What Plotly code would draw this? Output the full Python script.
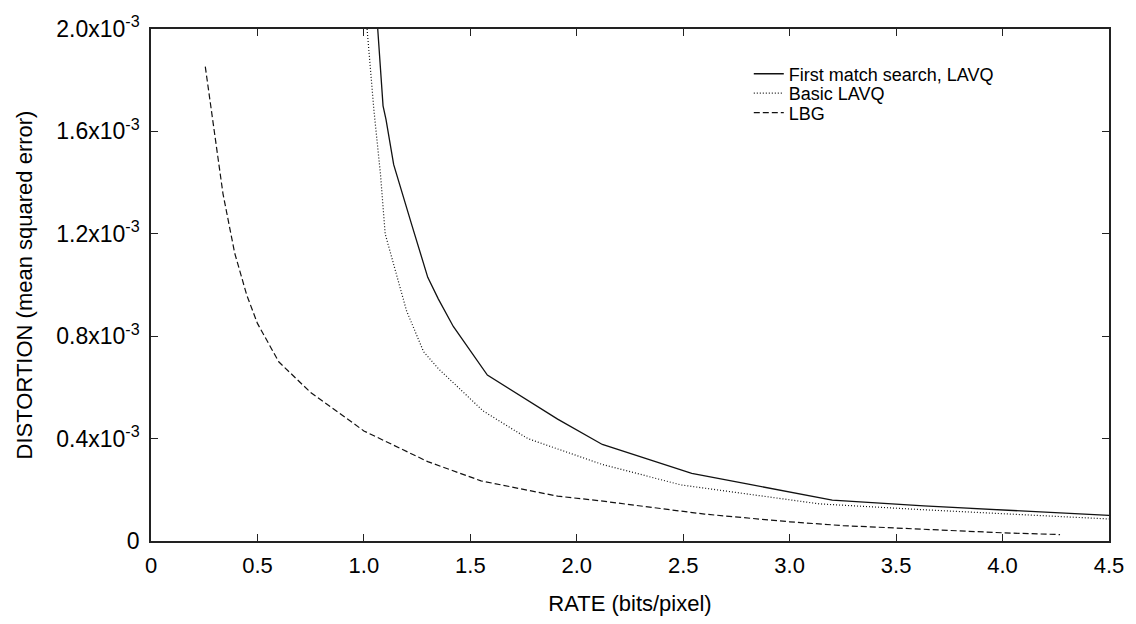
import plotly.graph_objects as go

# ---- data ----
fm_rate = [1.065, 1.09, 1.104, 1.14, 1.226, 1.30, 1.35, 1.42, 1.58, 1.91, 2.12, 2.22, 2.54, 2.80, 3.07, 3.20, 3.63, 4.05, 4.50]
fm_dist = [2.00e-3, 1.70e-3, 1.646e-3, 1.47e-3, 1.232e-3, 1.03e-3, 0.945e-3, 0.838e-3, 0.648e-3, 0.476e-3, 0.377e-3, 0.350e-3, 0.264e-3, 0.223e-3, 0.181e-3, 0.160e-3, 0.137e-3, 0.120e-3, 0.100e-3]

basic_rate = [1.015, 1.047, 1.078, 1.10, 1.125, 1.20, 1.28, 1.35, 1.56, 1.77, 2.12, 2.49, 3.14, 3.63, 4.50]
basic_dist = [2.00e-3, 1.684e-3, 1.432e-3, 1.20e-3, 1.125e-3, 0.90e-3, 0.74e-3, 0.673e-3, 0.508e-3, 0.400e-3, 0.299e-3, 0.219e-3, 0.145e-3, 0.122e-3, 0.086e-3]

lbg_rate = [0.255, 0.291, 0.338, 0.393, 0.45, 0.50, 0.60, 0.75, 1.00, 1.30, 1.55, 1.91, 2.10, 2.60, 3.00, 3.25, 3.50, 4.00, 4.27]
lbg_dist = [1.853e-3, 1.633e-3, 1.357e-3, 1.125e-3, 0.96e-3, 0.85e-3, 0.70e-3, 0.58e-3, 0.43e-3, 0.31e-3, 0.235e-3, 0.175e-3, 0.158e-3, 0.105e-3, 0.075e-3, 0.060e-3, 0.050e-3, 0.032e-3, 0.025e-3]

x_ticks = [0, 0.5, 1.0, 1.5, 2.0, 2.5, 3.0, 3.5, 4.0, 4.5]
x_ticktext = ["0", "0.5", "1.0", "1.5", "2.0", "2.5", "3.0", "3.5", "4.0", "4.5"]
y_ticks = [0, 0.4e-3, 0.8e-3, 1.2e-3, 1.6e-3, 2.0e-3]
y_ticktext = ["0", "0.4x10<sup>-3</sup>", "0.8x10<sup>-3</sup>", "1.2x10<sup>-3</sup>",
              "1.6x10<sup>-3</sup>", "2.0x10<sup>-3</sup>"]

series_names = ["First match search, LAVQ", "Basic LAVQ", "LBG"]

FONT = "Liberation Sans, Arial, Helvetica, sans-serif"
INK = "#111111"

fig = go.Figure()
fig.add_trace(go.Scatter(x=fm_rate, y=fm_dist, mode="lines", name=series_names[0], legend="legend",
                         line=dict(color=INK, width=1.3, dash="solid")))
fig.add_trace(go.Scatter(x=basic_rate, y=basic_dist, mode="lines", name=series_names[1], legend="legend2",
                         line=dict(color=INK, width=1.2, dash="1px,2px")))
fig.add_trace(go.Scatter(x=lbg_rate, y=lbg_dist, mode="lines", name=series_names[2], legend="legend3",
                         line=dict(color=INK, width=1.2, dash="6px,3px")))

leg_common = dict(x=0.624, xanchor="left", yanchor="middle", bgcolor="rgba(0,0,0,0)",
                  font=dict(size=18, family=FONT, color="#000"), itemwidth=30)

fig.update_layout(
    width=1136, height=624,
    margin=dict(l=151, r=22, t=16, b=77),
    paper_bgcolor="white", plot_bgcolor="white",
    font=dict(family=FONT, color="#000", size=22),
    showlegend=True,
    legend=dict(y=0.912, **leg_common),
    legend2=dict(y=0.874, **leg_common),
    legend3=dict(y=0.836, **leg_common),
    xaxis=dict(range=[0, 4.5], tickvals=x_ticks, ticktext=x_ticktext,
               showgrid=False, zeroline=False, showline=True, linecolor="#222", linewidth=1.5,
               mirror="ticks", ticks="inside", ticklen=7, tickcolor="#222", tickwidth=1.2,
               tickfont=dict(size=22, family=FONT), ticklabelstandoff=4, ticklabeloverflow="allow",
               title=dict(text="RATE (bits/pixel)", font=dict(size=22, family=FONT), standoff=18)),
    yaxis=dict(range=[0, 2.0e-3], tickvals=y_ticks, ticktext=y_ticktext,
               showgrid=False, zeroline=False, showline=True, linecolor="#222", linewidth=1.5,
               mirror="ticks", ticks="inside", ticklen=7, tickcolor="#222", tickwidth=1.2,
               tickfont=dict(size=23, family=FONT), ticklabeloverflow="allow", ticklabelstandoff=5,
               title=dict(text="DISTORTION (mean squared error)", font=dict(size=22, family=FONT), standoff=18)),
)

fig.write_html("out.html")
